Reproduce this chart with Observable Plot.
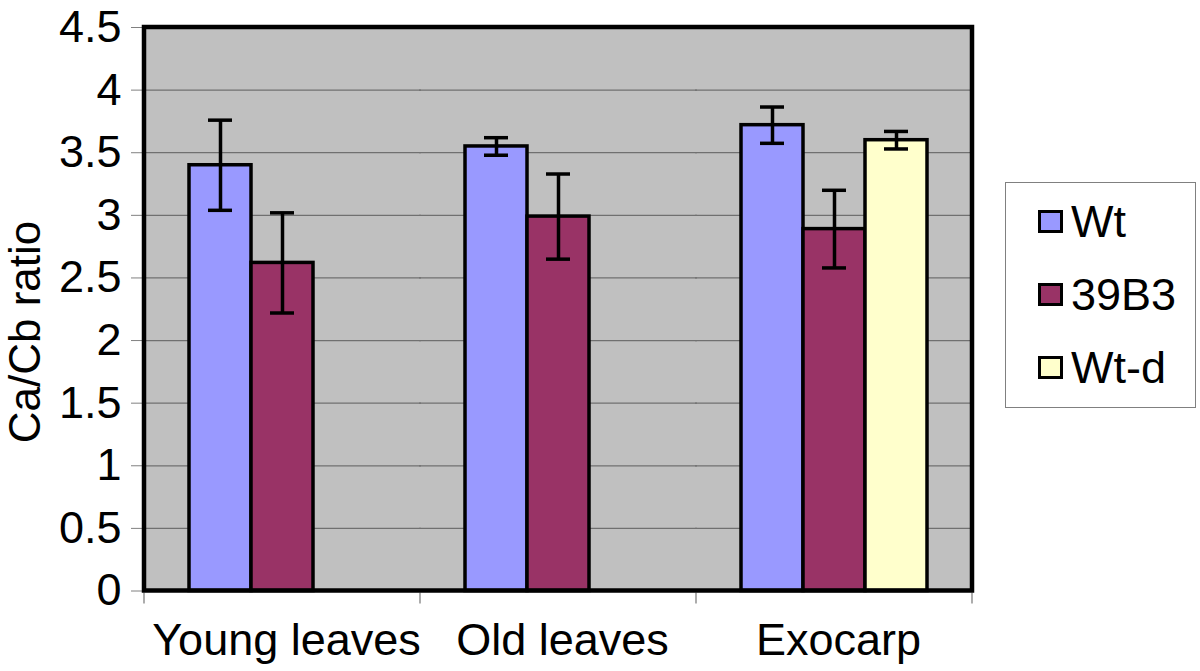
<!DOCTYPE html>
<html><head><meta charset="utf-8">
<script src="https://cdn.jsdelivr.net/npm/d3@7"></script>
<script src="https://cdn.jsdelivr.net/npm/@observablehq/plot@0.6"></script>
<style>
body{margin:0;background:#fff;font-family:"Liberation Sans",Arial,sans-serif;}
#wrap{position:relative;width:1200px;height:671px;overflow:hidden;background:#fff;}
#wrap svg{position:absolute;left:0;top:0;}
.ylabel{position:absolute;left:25px;top:332px;writing-mode:vertical-rl;transform:translate(-50%,-50%) rotate(180deg);font-size:44px;line-height:1.15;white-space:nowrap;color:#000;}
.legend{position:absolute;left:1005px;top:182px;width:191px;height:226px;border:1px solid #808080;box-sizing:border-box;background:#fff;}
.sw{position:absolute;width:25px;height:23px;border:3px solid #000;box-sizing:border-box;}
.lt{position:absolute;font-size:45px;line-height:1;white-space:nowrap;color:#000;}
</style></head>
<body><div id="wrap"></div>
<script>
const categories = ["Young leaves", "Old leaves", "Exocarp"];
const series = ["Wt", "39B3", "Wt-d"];
const seriesColors = ["#9999FF", "#993366", "#FFFFCC"];
const wtValues = [3.40, 3.55, 3.72];
const wtErrors = [0.36, 0.07, 0.145];
const b39Values = [2.62, 2.99, 2.89];
const b39Errors = [0.40, 0.34, 0.31];
const wtdValues = [null, null, 3.60];
const wtdErrors = [null, null, 0.07];
const yTicks = [0, 0.5, 1, 1.5, 2, 2.5, 3, 3.5, 4, 4.5];
const yTickLabels = ["0", "0.5", "1", "1.5", "2", "2.5", "3", "3.5", "4", "4.5"];
const yLabel = "Ca/Cb ratio";

const valuesBySeries = [wtValues, b39Values, wtdValues];
const errorsBySeries = [wtErrors, b39Errors, wtdErrors];
const rows = [];
categories.forEach((c, i) => {
  series.forEach((s, j) => {
    const v = valuesBySeries[j][i];
    if (v == null) return;
    const e = errorsBySeries[j][i];
    rows.push({category: c, series: s, value: v, lo: v - e, hi: v + e});
  });
});

const FONT = '"Liberation Sans", Arial, sans-serif';
const chart = Plot.plot({
  width: 1200, height: 671,
  marginLeft: 143, marginRight: 227, marginTop: 27, marginBottom: 80.5,
  style: {fontFamily: FONT, fontSize: "45px", color: "black", background: "transparent", overflow: "visible"},
  fx: {domain: categories, padding: 0, label: null},
  x: {domain: series, paddingInner: 0, paddingOuter: 0.7, axis: null},
  y: {domain: [0, 4.5], axis: null},
  color: {domain: series, range: seriesColors},
  marks: [
    Plot.frame({fill: "#C0C0C0", stroke: "none", insetLeft: -1, insetRight: -1}),
    Plot.ruleY(yTicks.filter(t => t > 0 && t < 4.5), {stroke: "#707070", strokeWidth: 1.3, insetLeft: -1, insetRight: -1}),
    Plot.barY(rows, {fx: "category", x: "series", y: "value", fill: "series", stroke: "black", strokeWidth: 3.5}),
    Plot.ruleX(rows, {fx: "category", x: "series", y1: "lo", y2: "hi", stroke: "black", strokeWidth: 3.5}),
    Plot.tickY(rows, {fx: "category", x: "series", y: "hi", stroke: "black", strokeWidth: 3.5, insetLeft: 19, insetRight: 19}),
    Plot.tickY(rows, {fx: "category", x: "series", y: "lo", stroke: "black", strokeWidth: 3.5, insetLeft: 19, insetRight: 19}),
    Plot.axisY({ticks: yTicks, tickFormat: d => yTickLabels[yTicks.indexOf(d)], tickSize: 13, tickPadding: 10, stroke: "#808080", fill: "black", fontSize: 45, label: null}),
    Plot.axisFx({anchor: "bottom", tickSize: 0, tickPadding: 32, fontSize: 45, label: null, dx: 4})
  ]
});

const wrap = document.getElementById("wrap");
wrap.appendChild(chart);

// plot-area border and category boundary ticks, placed with the library's scales
const fxScale = chart.scale("fx"), yScale = chart.scale("y");
const areaLeft = fxScale.apply(categories[0]);
const areaRight = fxScale.apply(categories[categories.length - 1]) + fxScale.bandwidth;
const areaTop = yScale.apply(yTicks[yTicks.length - 1]);
const areaBottom = yScale.apply(yTicks[0]);
const svgSel = d3.select(chart);
const bounds = categories.map(c => fxScale.apply(c)).concat([areaRight]);
svgSel.append("g").selectAll("line").data(bounds).join("line")
  .attr("x1", d => d).attr("x2", d => d)
  .attr("y1", areaBottom + 2).attr("y2", areaBottom + 13)
  .attr("stroke", "#808080").attr("stroke-width", 1.3);
svgSel.append("rect")
  .attr("x", areaLeft).attr("y", areaTop)
  .attr("width", areaRight - areaLeft).attr("height", areaBottom - areaTop)
  .attr("fill", "none").attr("stroke", "black").attr("stroke-width", 4.5);

// y label
const yl = document.createElement("div");
yl.className = "ylabel";
yl.textContent = yLabel;
wrap.appendChild(yl);

// legend
const lg = document.createElement("div");
lg.className = "legend";
wrap.appendChild(lg);
series.forEach((s, j) => {
  const baseline = 237 + j * 73;
  const sw = document.createElement("div");
  sw.className = "sw";
  sw.style.left = "1038px";
  sw.style.top = (baseline - 27) + "px";
  sw.style.background = seriesColors[j];
  wrap.appendChild(sw);
  const t = document.createElement("div");
  t.className = "lt";
  t.style.left = "1071px";
  t.style.top = (baseline - 38) + "px";
  t.textContent = s;
  wrap.appendChild(t);
});
</script>
</body></html>
